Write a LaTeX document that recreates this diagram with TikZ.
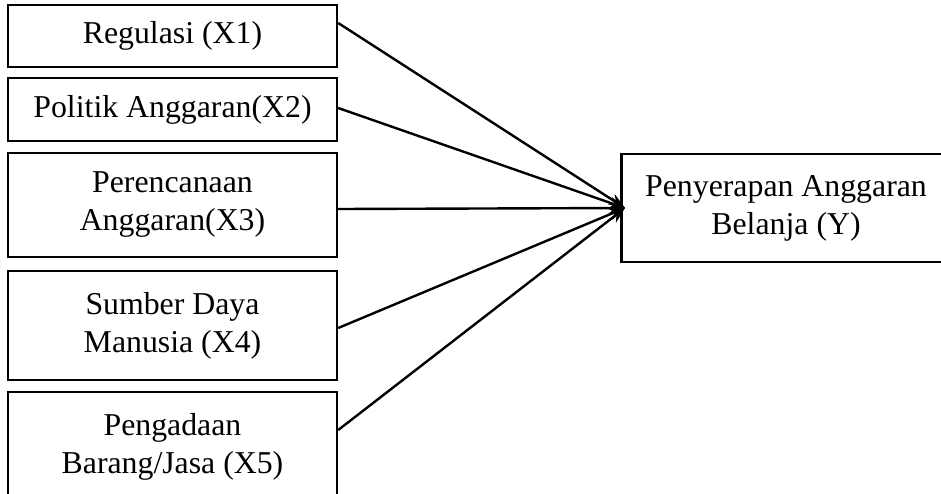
\documentclass[tikz,border=0pt]{standalone}
\usepackage{fontspec}
\setmainfont{Liberation Serif}
\usetikzlibrary{arrows.meta}

\begin{document}
\begin{tikzpicture}[
  x=0.5pt, y=-0.5pt,
  box/.style={
    draw, line width=1.2pt, align=center,
    minimum width=164.5pt, inner sep=0pt,
    font=\fontsize{15.9}{19}\selectfont
  }
]
  \useasboundingbox (0,0) rectangle (941,493);
  \clip (0,0) rectangle (941,493);
  \node[box, minimum height=31pt] (x1) at (172.5,36){Regulasi (X1)};
  \node[box, minimum height=31.5pt] (x2) at (172.5,109.5){Politik Anggaran(X2)};
  \node[box, minimum height=52pt] (x3) at (172.5,205){Perencanaan\\Anggaran(X3)};
  \node[box, minimum height=54.5pt] (x4) at (172.5,325.5){Sumber Daya\\Manusia (X4)};
  \node[box, minimum height=54.5pt] (x5) at (172.5,446.5){Pengadaan\\Barang/Jasa (X5)};
  \node[box, minimum height=54pt] (y) at (786,208){Penyerapan Anggaran\\Belanja (Y)};
  \coordinate (tip) at (625,208);
  \foreach \v/\s in {x1/6.5pt, x2/0.75pt, x3/-2pt, x4/-1.25pt, x5/8.25pt}{
    \draw[line width=1.2pt, -{Stealth[length=8pt,width=6pt]}] ([yshift=\s]\v.east) -- (tip);
  }
\end{tikzpicture}
\end{document}
